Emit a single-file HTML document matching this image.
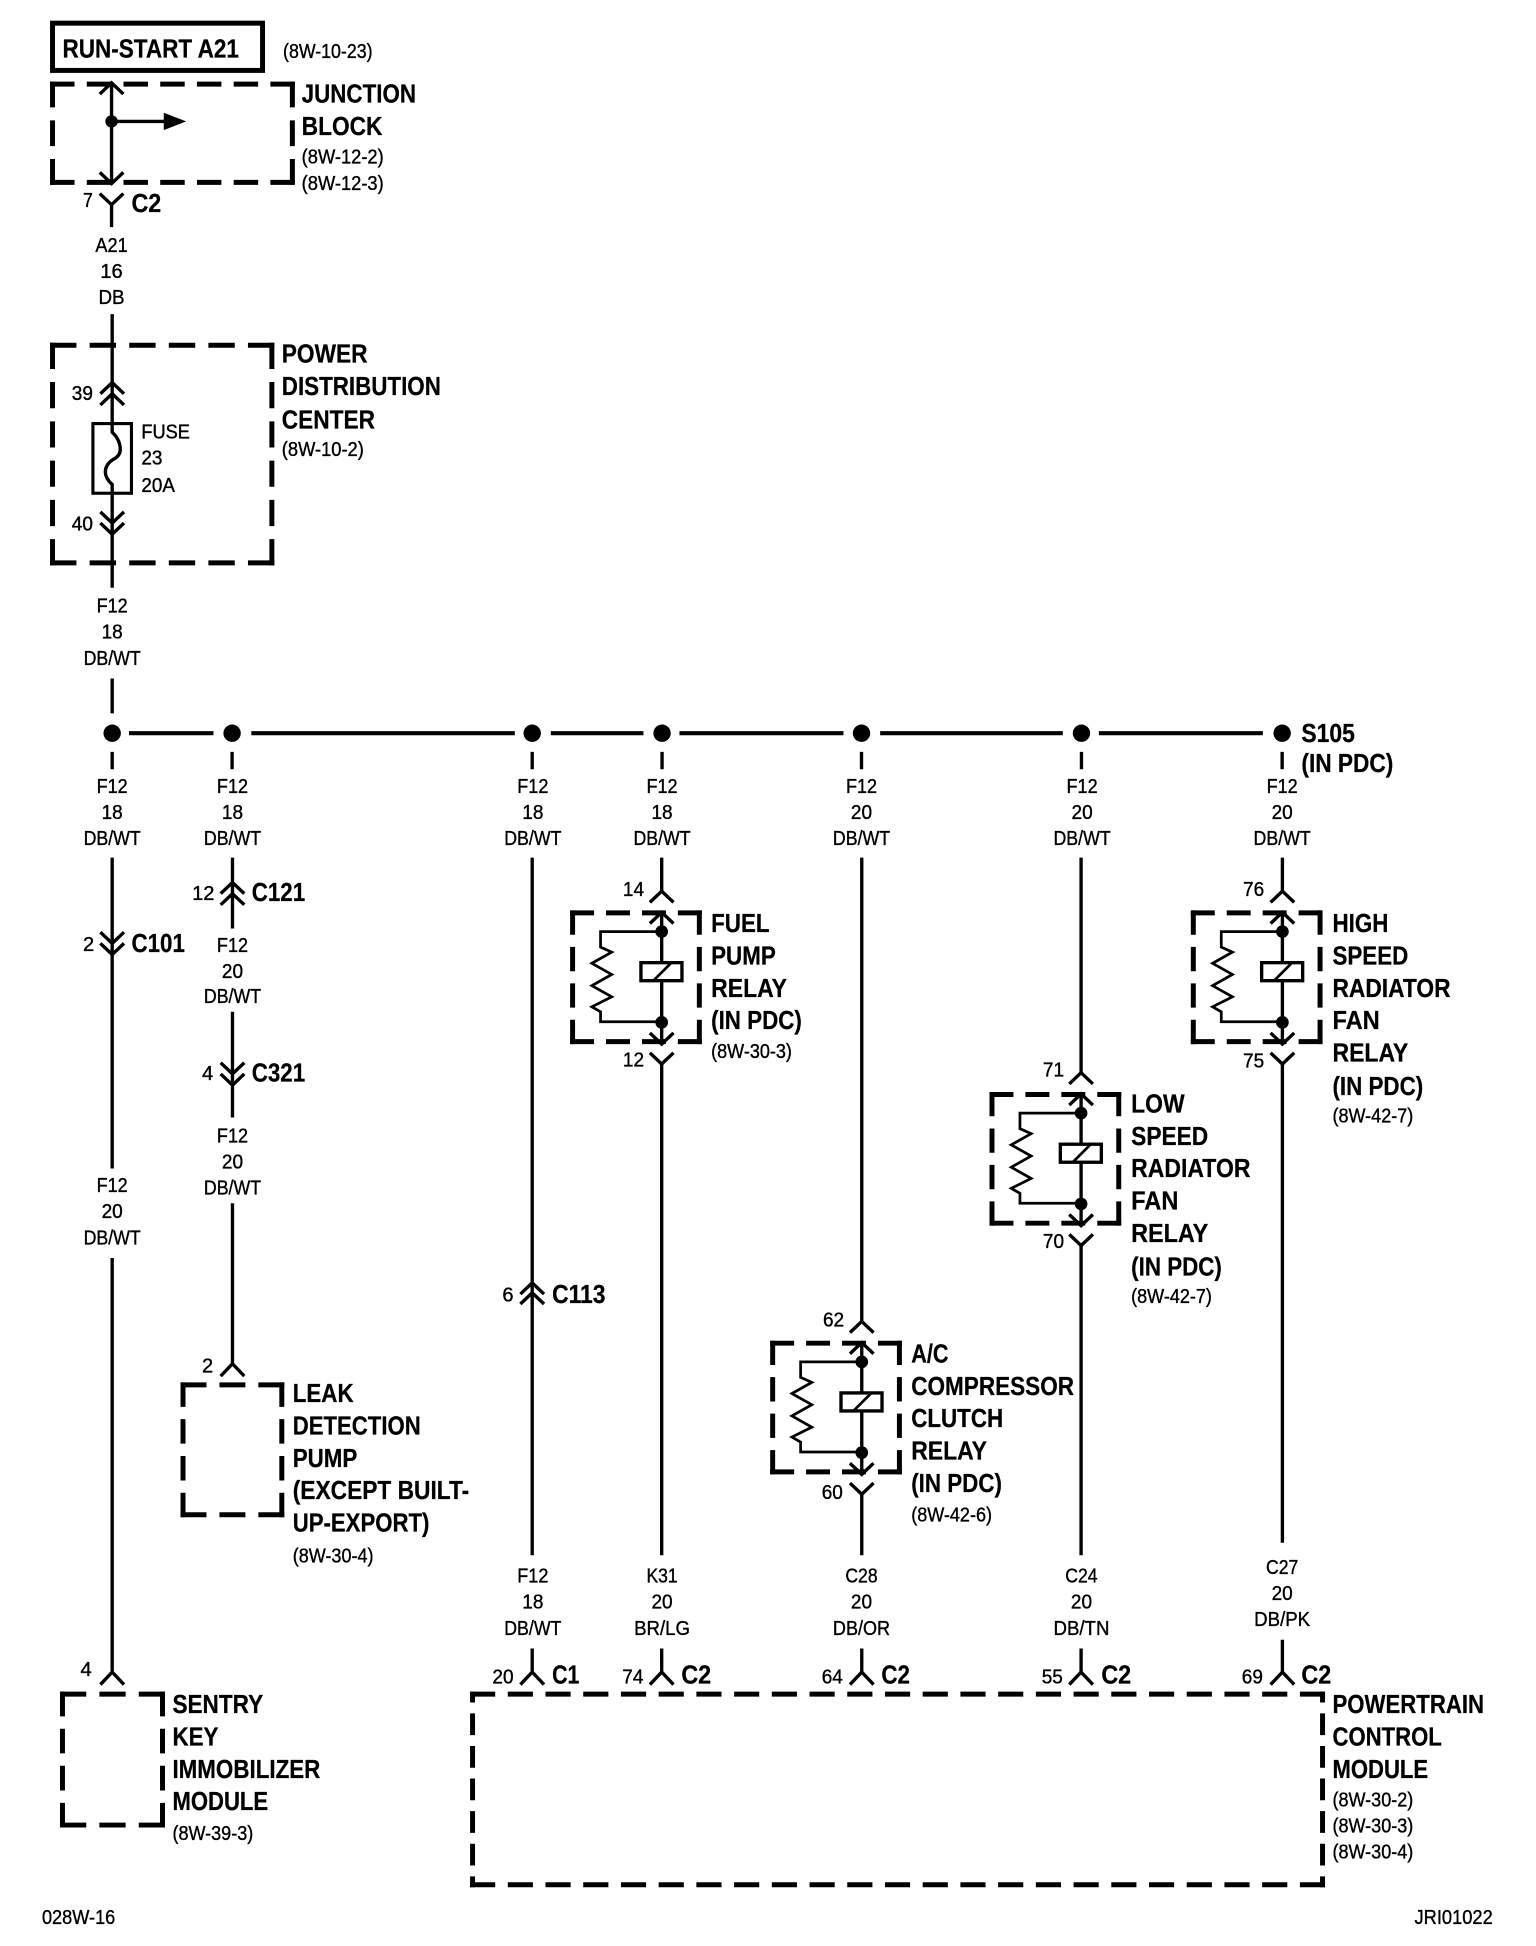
<!DOCTYPE html>
<html><head><meta charset="utf-8"><title>Wiring diagram</title>
<style>
html,body{margin:0;padding:0;background:#fff}
svg{display:block}
text{font-family:"Liberation Sans",Arial,sans-serif;fill:#000}
.b{font-size:21px;font-weight:bold;stroke:#000;stroke-width:.2px}
.r{font-size:16px;stroke:#000;stroke-width:.3px}
.c{text-anchor:middle}
.w{fill:none;stroke:#000;stroke-width:2.7}
.d{fill:none;stroke:#000;stroke-width:4;stroke-dasharray:2 1}
</style></head><body>
<svg xmlns="http://www.w3.org/2000/svg" width="1536" height="1946" viewBox="0 0 1240 1571">
<defs>
<g id="relay">
<path class="d" pathLength="11" d="M460.500 736.500H566.500"/><path class="d" pathLength="11" d="M460.500 840H566.500"/>
<path class="d" pathLength="11" d="M462.500 734.500V842"/><path class="d" pathLength="11" d="M564.500 734.500V842"/>
<path class="w" d="M534.200 736V842M524.700 745l9.500-9 9.500 9M524.700 833l9.500 9 9.500-9M524.700 728l9.500-9 9.500 9M524.700 849l9.500 9 9.500-9"/>
<path class="w" style="stroke-width:2.200" d="M533 751.500H485V764L494 768L478 777L494 786L478 795L494 804L478 812L485 816V824H533"/>
<circle cx="534.200" cy="751.500" r="5.100"/><circle cx="534.200" cy="824.500" r="5.100"/>
<rect x="517.500" y="776.500" width="33" height="14.500" fill="#fff" stroke="#000" stroke-width="2.700"/>
<path class="w" style="stroke-width:2.200" d="M527.500 791L541.500 777"/>
</g>
</defs>
<g transform="matrix(1.0032 0 0 1.0039 -1.734 -1.37)">

<!-- boxes with calibrated edges, top section -->
<rect x="44" y="20" width="169" height="38" fill="none" stroke="#000" stroke-width="4"/>
<path class="d" pathLength="20" d="M42 69H239"/><path class="d" pathLength="20" d="M42 148H239"/>
<path class="d" pathLength="8" d="M44 67V150"/><path class="d" pathLength="8" d="M237 67V150"/>
<path class="d" pathLength="17" d="M42 279H222.500"/><path class="d" pathLength="17" d="M42 454H222.500"/>
<path class="d" pathLength="17" d="M44 277V456"/><path class="d" pathLength="17" d="M220.500 277V456"/>

<g transform="translate(1.5 0)">
<text class="b" x="50.500" y="47.500" textLength="142" lengthAdjust="spacingAndGlyphs">RUN-START A21</text>
<text class="r" x="228" y="48" textLength="72" lengthAdjust="spacingAndGlyphs">(8W-10-23)</text>

<path class="w" d="M90 68V149M80.5 77l9.5-9 9.5 9M80.5 140l9.5 9 9.5-9M90 99H134M80.5 157l9.5 9 9.5-9M90 166V184"/>
<circle cx="90" cy="99" r="5"/><path d="M132 92L150 99L132 106Z"/>
<text class="b" x="243" y="84" textLength="92" lengthAdjust="spacingAndGlyphs">JUNCTION</text>
<text class="b" x="243" y="110" textLength="65" lengthAdjust="spacingAndGlyphs">BLOCK</text>
<text class="r" x="243" y="133" textLength="66" lengthAdjust="spacingAndGlyphs">(8W-12-2)</text>
<text class="r" x="243" y="154" textLength="66" lengthAdjust="spacingAndGlyphs">(8W-12-3)</text>
<text class="r" x="67" y="168" textLength="8" lengthAdjust="spacingAndGlyphs">7</text>
<text class="b" x="106" y="172" textLength="24" lengthAdjust="spacingAndGlyphs">C2</text>
<text class="r c" x="90" y="204" textLength="26" lengthAdjust="spacingAndGlyphs">A21</text>
<text class="r c" x="90" y="225" textLength="18" lengthAdjust="spacingAndGlyphs">16</text>
<text class="r c" x="90" y="246" textLength="21" lengthAdjust="spacingAndGlyphs">DB</text>

<rect x="75" y="342" width="31" height="56" fill="none" stroke="#000" stroke-width="2.5"/>
<path class="w" d="M90.5 254V349Q97 355 97 363Q97 368 91 371Q85 375 85 381Q85 386 90.5 391V474M81 318l9.5-9 9.5 9M81 327l9.5-9 9.5 9M81 413l9.5 9 9.5-9M81 422l9.5 9 9.5-9"/>
<text class="r" x="58" y="323" textLength="17" lengthAdjust="spacingAndGlyphs">39</text>
<text class="r" x="58" y="428" textLength="17" lengthAdjust="spacingAndGlyphs">40</text>
<text class="r" x="114" y="354" textLength="39" lengthAdjust="spacingAndGlyphs">FUSE</text>
<text class="r" x="114" y="375" textLength="17" lengthAdjust="spacingAndGlyphs">23</text>
<text class="r" x="114" y="397" textLength="27" lengthAdjust="spacingAndGlyphs">20A</text>
<text class="b" x="227" y="293" textLength="69" lengthAdjust="spacingAndGlyphs">POWER</text>
<text class="b" x="227" y="319" textLength="128" lengthAdjust="spacingAndGlyphs">DISTRIBUTION</text>
<text class="b" x="227" y="346" textLength="75" lengthAdjust="spacingAndGlyphs">CENTER</text>
<text class="r" x="227" y="368" textLength="66" lengthAdjust="spacingAndGlyphs">(8W-10-2)</text>
<text class="r c" x="90.5" y="494" textLength="25" lengthAdjust="spacingAndGlyphs">F12</text>
<text class="r c" x="90.5" y="515" textLength="17" lengthAdjust="spacingAndGlyphs">18</text>
<text class="r c" x="90.5" y="536" textLength="46" lengthAdjust="spacingAndGlyphs">DB/WT</text>
<path class="w" d="M90.5 547V575"/>
</g>

<!-- bus -->
<path class="w" style="stroke-width:3.300" d="M105.500 591H173.500M204 591H416M445 591H519.500M548.500 591H680.500M710 591H857M886 591H1018"/>
<circle cx="92" cy="591" r="7"/><circle cx="188.500" cy="591" r="7"/><circle cx="430" cy="591" r="7"/><circle cx="534.500" cy="591" r="7"/><circle cx="695" cy="591" r="7"/><circle cx="872" cy="591" r="7"/><circle cx="1033.5" cy="591" r="7"/>
<path class="w" d="M92 606V620M188.500 606V620M430 606V620M534.500 606V620M695 606V620M872 606V620M1033.5 606V620"/>
<text class="b" x="1049" y="598" textLength="43" lengthAdjust="spacingAndGlyphs">S105</text>
<text class="b" x="1049" y="622" textLength="74" lengthAdjust="spacingAndGlyphs">(IN PDC)</text>

<text class="r c" x="92" y="639" textLength="25" lengthAdjust="spacingAndGlyphs">F12</text><text class="r c" x="92" y="660" textLength="17" lengthAdjust="spacingAndGlyphs">18</text><text class="r c" x="92" y="681" textLength="46" lengthAdjust="spacingAndGlyphs">DB/WT</text>
<text class="r c" x="188.800" y="639" textLength="25" lengthAdjust="spacingAndGlyphs">F12</text><text class="r c" x="188.800" y="660" textLength="17" lengthAdjust="spacingAndGlyphs">18</text><text class="r c" x="188.800" y="681" textLength="46" lengthAdjust="spacingAndGlyphs">DB/WT</text>
<text class="r c" x="430.500" y="639" textLength="25" lengthAdjust="spacingAndGlyphs">F12</text><text class="r c" x="430.500" y="660" textLength="17" lengthAdjust="spacingAndGlyphs">18</text><text class="r c" x="430.500" y="681" textLength="46" lengthAdjust="spacingAndGlyphs">DB/WT</text>
<text class="r c" x="534.500" y="639" textLength="25" lengthAdjust="spacingAndGlyphs">F12</text><text class="r c" x="534.500" y="660" textLength="17" lengthAdjust="spacingAndGlyphs">18</text><text class="r c" x="534.500" y="681" textLength="46" lengthAdjust="spacingAndGlyphs">DB/WT</text>
<text class="r c" x="695" y="639" textLength="25" lengthAdjust="spacingAndGlyphs">F12</text><text class="r c" x="695" y="660" textLength="17" lengthAdjust="spacingAndGlyphs">20</text><text class="r c" x="695" y="681" textLength="46" lengthAdjust="spacingAndGlyphs">DB/WT</text>
<text class="r c" x="872.5" y="639" textLength="25" lengthAdjust="spacingAndGlyphs">F12</text><text class="r c" x="872.5" y="660" textLength="17" lengthAdjust="spacingAndGlyphs">20</text><text class="r c" x="872.5" y="681" textLength="46" lengthAdjust="spacingAndGlyphs">DB/WT</text>
<text class="r c" x="1033.5" y="639" textLength="25" lengthAdjust="spacingAndGlyphs">F12</text><text class="r c" x="1033.5" y="660" textLength="17" lengthAdjust="spacingAndGlyphs">20</text><text class="r c" x="1033.5" y="681" textLength="46" lengthAdjust="spacingAndGlyphs">DB/WT</text>

<!-- everything below the bus labels -->
<g transform="translate(0 -1)">

<!-- column 1 -->
<g transform="translate(1.5 0)">
<path class="w" d="M90.5 692V942M81 752l9.5 9 9.5-9M81 761l9.5 9 9.5-9M90.5 1014V1347M81 1357l9.5-10 9.5 10"/>
<text class="r" x="67" y="767" textLength="9" lengthAdjust="spacingAndGlyphs">2</text>
<text class="b" x="106" y="768" textLength="43" lengthAdjust="spacingAndGlyphs">C101</text>
<text class="r c" x="90.5" y="961" textLength="25" lengthAdjust="spacingAndGlyphs">F12</text><text class="r c" x="90.5" y="982" textLength="17" lengthAdjust="spacingAndGlyphs">20</text><text class="r c" x="90.5" y="1003" textLength="46" lengthAdjust="spacingAndGlyphs">DB/WT</text>
<text class="r" x="65" y="1350" textLength="9" lengthAdjust="spacingAndGlyphs">4</text>
<text class="b" x="139" y="1380" textLength="73" lengthAdjust="spacingAndGlyphs">SENTRY</text>
<text class="b" x="139" y="1406" textLength="37" lengthAdjust="spacingAndGlyphs">KEY</text>
<text class="b" x="139" y="1432" textLength="119" lengthAdjust="spacingAndGlyphs">IMMOBILIZER</text>
<text class="b" x="139" y="1458" textLength="77" lengthAdjust="spacingAndGlyphs">MODULE</text>
<text class="r" x="139" y="1482" textLength="65" lengthAdjust="spacingAndGlyphs">(8W-39-3)</text>
</g>
<path class="d" pathLength="8" d="M50 1364.700H134.500"/><path class="d" pathLength="8" d="M50 1470H134.500"/>
<path class="d" pathLength="11" d="M52 1362.700V1472"/><path class="d" pathLength="11" d="M132.500 1362.700V1472"/>

<!-- column 2 -->
<g transform="translate(1.3 0)">
<path class="w" d="M187.5 692V749M178 721l9.5-9 9.5 9M178 730l9.5-9 9.5 9M187.5 816V875M178 857l9.5 9 9.5-9M178 866l9.5 9 9.5-9M187.5 875V901M187.5 970V1098M178 1109l9.5-10 9.5 10"/>
<text class="r" x="155" y="726" textLength="18" lengthAdjust="spacingAndGlyphs">12</text>
<text class="b" x="203" y="727" textLength="43" lengthAdjust="spacingAndGlyphs">C121</text>
<text class="r c" x="187.5" y="768" textLength="25" lengthAdjust="spacingAndGlyphs">F12</text><text class="r c" x="187.5" y="789" textLength="17" lengthAdjust="spacingAndGlyphs">20</text><text class="r c" x="187.5" y="809" textLength="46" lengthAdjust="spacingAndGlyphs">DB/WT</text>
<text class="r" x="163" y="871" textLength="9" lengthAdjust="spacingAndGlyphs">4</text>
<text class="b" x="203" y="872" textLength="43" lengthAdjust="spacingAndGlyphs">C321</text>
<text class="r c" x="187.5" y="921" textLength="25" lengthAdjust="spacingAndGlyphs">F12</text><text class="r c" x="187.5" y="942" textLength="17" lengthAdjust="spacingAndGlyphs">20</text><text class="r c" x="187.5" y="963" textLength="46" lengthAdjust="spacingAndGlyphs">DB/WT</text>
<text class="r" x="163" y="1106" textLength="9" lengthAdjust="spacingAndGlyphs">2</text>
<text class="b" x="236" y="1130" textLength="49" lengthAdjust="spacingAndGlyphs">LEAK</text>
<text class="b" x="236" y="1156" textLength="103" lengthAdjust="spacingAndGlyphs">DETECTION</text>
<text class="b" x="236" y="1182" textLength="52" lengthAdjust="spacingAndGlyphs">PUMP</text>
<text class="b" x="236" y="1208" textLength="142" lengthAdjust="spacingAndGlyphs">(EXCEPT BUILT-</text>
<text class="b" x="236" y="1234" textLength="110" lengthAdjust="spacingAndGlyphs">UP-EXPORT)</text>
<text class="r" x="236" y="1259" textLength="65" lengthAdjust="spacingAndGlyphs">(8W-30-4)</text>
</g>
<path class="d" pathLength="8" d="M147 1116H230.500"/><path class="d" pathLength="8" d="M147 1220.500H230.500"/>
<path class="d" pathLength="11" d="M149 1114V1222.500"/><path class="d" pathLength="11" d="M228.500 1114V1222.500"/>

<!-- column 3 -->
<g transform="translate(1 0)">
<path class="w" d="M429 692V1253M419.500 1043l9.500-9 9.500 9M419.500 1051l9.500-9 9.500 9"/>
<text class="r" x="405" y="1049" textLength="9" lengthAdjust="spacingAndGlyphs">6</text>
<text class="b" x="445" y="1050" textLength="43" lengthAdjust="spacingAndGlyphs">C113</text>
<text class="r c" x="429.500" y="1275" textLength="25" lengthAdjust="spacingAndGlyphs">F12</text><text class="r c" x="429.500" y="1296" textLength="17" lengthAdjust="spacingAndGlyphs">18</text><text class="r c" x="429.500" y="1317" textLength="46" lengthAdjust="spacingAndGlyphs">DB/WT</text>
<path class="w" d="M429 1328V1347M419.500 1357l9.500-10 9.500 10"/>
<text class="r" x="397" y="1356" textLength="17" lengthAdjust="spacingAndGlyphs">20</text><text class="b" x="445" y="1356" textLength="22" lengthAdjust="spacingAndGlyphs">C1</text>
</g>

<!-- relays -->
<use href="#relay"/>
<use href="#relay" transform="translate(161 346)"/>
<use href="#relay" transform="translate(337.500 146)"/>
<use href="#relay" transform="translate(499.500 0)"/>
<path class="w" d="M534.200 692V719M534.200 858V1253M695.200 692V1065M695.200 1204V1253M871.700 692V865M871.700 1004V1253M1033.700 692V719M1033.700 858V1243"/>

<text class="r" x="503" y="723" textLength="17" lengthAdjust="spacingAndGlyphs">14</text>
<text class="r" x="503" y="860" textLength="17" lengthAdjust="spacingAndGlyphs">12</text>
<text class="b" x="574" y="752" textLength="47" lengthAdjust="spacingAndGlyphs">FUEL</text>
<text class="b" x="574" y="778" textLength="52" lengthAdjust="spacingAndGlyphs">PUMP</text>
<text class="b" x="574" y="804" textLength="61" lengthAdjust="spacingAndGlyphs">RELAY</text>
<text class="b" x="574" y="830" textLength="73" lengthAdjust="spacingAndGlyphs">(IN PDC)</text>
<text class="r" x="574" y="853" textLength="65" lengthAdjust="spacingAndGlyphs">(8W-30-3)</text>

<text class="r" x="664" y="1069" textLength="17" lengthAdjust="spacingAndGlyphs">62</text>
<text class="r" x="663" y="1208" textLength="17" lengthAdjust="spacingAndGlyphs">60</text>
<text class="b" x="735" y="1098" textLength="30" lengthAdjust="spacingAndGlyphs">A/C</text>
<text class="b" x="735" y="1124" textLength="131" lengthAdjust="spacingAndGlyphs">COMPRESSOR</text>
<text class="b" x="735" y="1150" textLength="74" lengthAdjust="spacingAndGlyphs">CLUTCH</text>
<text class="b" x="735" y="1176" textLength="61" lengthAdjust="spacingAndGlyphs">RELAY</text>
<text class="b" x="735" y="1202" textLength="73" lengthAdjust="spacingAndGlyphs">(IN PDC)</text>
<text class="r" x="735" y="1226" textLength="65" lengthAdjust="spacingAndGlyphs">(8W-42-6)</text>

<text class="r" x="841" y="868" textLength="17" lengthAdjust="spacingAndGlyphs">71</text>
<text class="r" x="841" y="1006" textLength="17" lengthAdjust="spacingAndGlyphs">70</text>
<text class="b" x="912" y="897" textLength="43" lengthAdjust="spacingAndGlyphs">LOW</text>
<text class="b" x="912" y="923" textLength="62" lengthAdjust="spacingAndGlyphs">SPEED</text>
<text class="b" x="912" y="949" textLength="96" lengthAdjust="spacingAndGlyphs">RADIATOR</text>
<text class="b" x="912" y="975" textLength="38" lengthAdjust="spacingAndGlyphs">FAN</text>
<text class="b" x="912" y="1001" textLength="62" lengthAdjust="spacingAndGlyphs">RELAY</text>
<text class="b" x="912" y="1028" textLength="73" lengthAdjust="spacingAndGlyphs">(IN PDC)</text>
<text class="r" x="912" y="1050" textLength="65" lengthAdjust="spacingAndGlyphs">(8W-42-7)</text>

<text class="r" x="1002" y="723" textLength="17" lengthAdjust="spacingAndGlyphs">76</text>
<text class="r" x="1002" y="861" textLength="17" lengthAdjust="spacingAndGlyphs">75</text>
<text class="b" x="1074" y="752" textLength="45" lengthAdjust="spacingAndGlyphs">HIGH</text>
<text class="b" x="1074" y="778" textLength="61" lengthAdjust="spacingAndGlyphs">SPEED</text>
<text class="b" x="1074" y="804" textLength="95" lengthAdjust="spacingAndGlyphs">RADIATOR</text>
<text class="b" x="1074" y="830" textLength="38" lengthAdjust="spacingAndGlyphs">FAN</text>
<text class="b" x="1074" y="856" textLength="61" lengthAdjust="spacingAndGlyphs">RELAY</text>
<text class="b" x="1074" y="883" textLength="73" lengthAdjust="spacingAndGlyphs">(IN PDC)</text>
<text class="r" x="1074" y="905" textLength="65" lengthAdjust="spacingAndGlyphs">(8W-42-7)</text>

<!-- bottom wire labels -->
<text class="r c" x="534.500" y="1275" textLength="25" lengthAdjust="spacingAndGlyphs">K31</text><text class="r c" x="534.500" y="1296" textLength="17" lengthAdjust="spacingAndGlyphs">20</text><text class="r c" x="534.500" y="1317" textLength="45" lengthAdjust="spacingAndGlyphs">BR/LG</text>
<text class="r c" x="695" y="1275" textLength="26" lengthAdjust="spacingAndGlyphs">C28</text><text class="r c" x="695" y="1296" textLength="17" lengthAdjust="spacingAndGlyphs">20</text><text class="r c" x="695" y="1317" textLength="46" lengthAdjust="spacingAndGlyphs">DB/OR</text>
<text class="r c" x="872" y="1275" textLength="26" lengthAdjust="spacingAndGlyphs">C24</text><text class="r c" x="872" y="1296" textLength="17" lengthAdjust="spacingAndGlyphs">20</text><text class="r c" x="872" y="1317" textLength="45" lengthAdjust="spacingAndGlyphs">DB/TN</text>
<text class="r c" x="1033.500" y="1268" textLength="26" lengthAdjust="spacingAndGlyphs">C27</text><text class="r c" x="1033.500" y="1289" textLength="17" lengthAdjust="spacingAndGlyphs">20</text><text class="r c" x="1033.500" y="1310" textLength="45" lengthAdjust="spacingAndGlyphs">DB/PK</text>

<!-- bottom connectors -->
<path class="w" d="M534.200 1328V1347M524.700 1357l9.500-10 9.500 10M695.200 1328V1347M685.700 1357l9.500-10 9.500 10M871.700 1328V1347M862.200 1357l9.500-10 9.500 10M1033.700 1321V1347M1024.200 1357l9.500-10 9.500 10"/>
<text class="r" x="502.500" y="1356" textLength="17" lengthAdjust="spacingAndGlyphs">74</text><text class="b" x="550" y="1356" textLength="24" lengthAdjust="spacingAndGlyphs">C2</text>
<text class="r" x="663" y="1356" textLength="17" lengthAdjust="spacingAndGlyphs">64</text><text class="b" x="711" y="1356" textLength="23" lengthAdjust="spacingAndGlyphs">C2</text>
<text class="r" x="840" y="1356" textLength="17" lengthAdjust="spacingAndGlyphs">55</text><text class="b" x="888" y="1356" textLength="24" lengthAdjust="spacingAndGlyphs">C2</text>
<text class="r" x="1001" y="1356" textLength="17" lengthAdjust="spacingAndGlyphs">69</text><text class="b" x="1049" y="1356" textLength="24" lengthAdjust="spacingAndGlyphs">C2</text>

<!-- PCM -->
<path class="d" pathLength="68" d="M380 1364.700H1068"/><path class="d" pathLength="68" d="M380 1518H1068"/>
<path class="d" pathLength="18" style="stroke-dashoffset:1" d="M382 1362.700V1520"/>
<path class="d" pathLength="18" style="stroke-dashoffset:1" d="M1066 1362.700V1520"/>
<text class="b" x="1074" y="1380" textLength="122" lengthAdjust="spacingAndGlyphs">POWERTRAIN</text>
<text class="b" x="1074" y="1406" textLength="88" lengthAdjust="spacingAndGlyphs">CONTROL</text>
<text class="b" x="1074" y="1432" textLength="77" lengthAdjust="spacingAndGlyphs">MODULE</text>
<text class="r" x="1074" y="1455" textLength="65" lengthAdjust="spacingAndGlyphs">(8W-30-2)</text>
<text class="r" x="1074" y="1476" textLength="65" lengthAdjust="spacingAndGlyphs">(8W-30-3)</text>
<text class="r" x="1074" y="1497" textLength="65" lengthAdjust="spacingAndGlyphs">(8W-30-4)</text>
</g>

<text class="r" x="35.500" y="1548.500" textLength="59" lengthAdjust="spacingAndGlyphs">028W-16</text>
<text class="r" x="1140" y="1548.500" textLength="63" lengthAdjust="spacingAndGlyphs">JRI01022</text>
</g>
</svg>
</body></html>
